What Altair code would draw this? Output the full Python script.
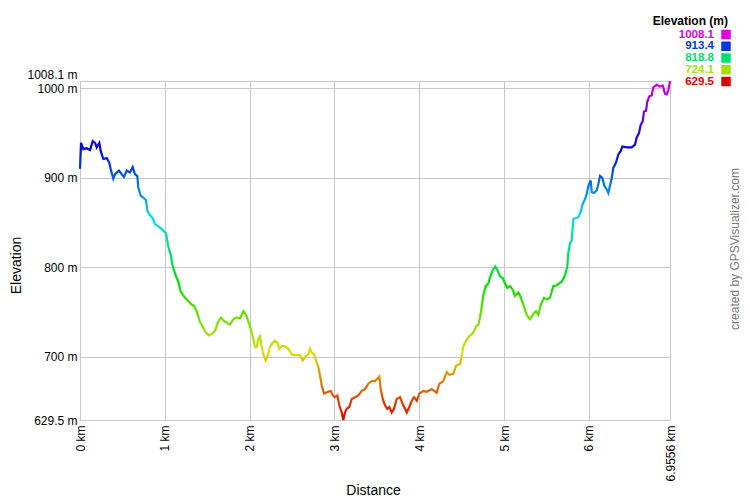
import colorsys
import altair as alt
import pandas as pd

dist_km = [
    0.000, 0.012, 0.039, 0.079, 0.118, 0.150, 0.177, 0.197, 0.228, 0.244,
    0.275, 0.315, 0.345, 0.366, 0.393, 0.413, 0.460, 0.492, 0.519, 0.551,
    0.589, 0.621, 0.648, 0.676, 0.687, 0.716, 0.746, 0.778, 0.794, 0.825,
    0.857, 0.884, 0.923, 0.982, 1.014, 1.041, 1.069, 1.093, 1.132, 1.159,
    1.187, 1.238, 1.262, 1.309, 1.344, 1.379, 1.415, 1.450, 1.486, 1.521,
    1.556, 1.592, 1.627, 1.662, 1.698, 1.733, 1.768, 1.807, 1.847, 1.886,
    1.925, 1.957, 1.984, 2.013, 2.043, 2.063, 2.083, 2.102, 2.122, 2.142,
    2.161, 2.189, 2.208, 2.240, 2.272, 2.299, 2.326, 2.350, 2.378, 2.417,
    2.456, 2.496, 2.535, 2.594, 2.626, 2.653, 2.692, 2.712, 2.732, 2.759,
    2.782, 2.810, 2.830, 2.850, 2.877, 2.927, 2.956, 2.979, 3.006, 3.034,
    3.057, 3.085, 3.104, 3.124, 3.144, 3.175, 3.203, 3.242, 3.281, 3.321,
    3.360, 3.399, 3.439, 3.478, 3.529, 3.545, 3.569, 3.596, 3.623, 3.647,
    3.675, 3.702, 3.734, 3.773, 3.805, 3.832, 3.852, 3.882, 3.911, 3.938,
    3.970, 4.000, 4.047, 4.087, 4.146, 4.205, 4.236, 4.283, 4.323, 4.354,
    4.401, 4.433, 4.480, 4.500, 4.519, 4.551, 4.590, 4.637, 4.669, 4.696,
    4.716, 4.736, 4.755, 4.783, 4.814, 4.834, 4.866, 4.896, 4.920, 4.952,
    4.983, 5.011, 5.038, 5.070, 5.101, 5.128, 5.168, 5.199, 5.235, 5.266,
    5.305, 5.344, 5.376, 5.403, 5.432, 5.470, 5.502, 5.541, 5.580, 5.620,
    5.679, 5.718, 5.745, 5.757, 5.777, 5.797, 5.816, 5.875, 5.903, 5.927,
    5.954, 5.974, 5.993, 6.021, 6.033, 6.060, 6.092, 6.111, 6.131, 6.158,
    6.181, 6.210, 6.229, 6.248, 6.268, 6.287, 6.319, 6.347, 6.375, 6.394,
    6.446, 6.504, 6.543, 6.563, 6.590, 6.610, 6.634, 6.649, 6.673, 6.688,
    6.712, 6.740, 6.759, 6.799, 6.830, 6.870, 6.897, 6.917, 6.936, 6.9556,
]
elev_m = [
    910, 939, 932, 933, 931, 941, 939, 934, 939, 930,
    921, 922, 917, 908, 899, 904, 908, 904, 901, 908,
    906, 912, 904, 902, 889, 880, 878, 875, 863, 858,
    855, 848, 846, 841, 838, 823, 814, 801, 790, 784,
    773, 766, 764, 759, 757, 750, 739, 733, 727, 724,
    726, 729, 739, 744, 740, 738, 736, 742, 744, 743,
    751, 747, 740, 731, 720, 711, 711, 720, 723, 711,
    703, 696, 700, 711, 716, 718, 716, 709, 712, 712,
    709, 703, 702, 702, 696, 700, 703, 709, 705, 703,
    696, 689, 679, 668, 659, 661, 662, 657, 655, 657,
    646, 638, 629.5, 638, 642, 644, 653, 655, 657, 662,
    664, 670, 673, 673, 678, 664, 653, 646, 642, 644,
    638, 642, 653, 655, 647, 642, 638, 644, 651, 655,
    651, 659, 662, 661, 664, 660, 670, 673, 683, 680,
    681, 690, 692, 701, 712, 718, 723, 727, 734, 736,
    744, 756, 769, 779, 782, 789, 797, 801, 797, 790,
    788, 782, 777, 779, 775, 768, 772, 766, 756, 747,
    742, 748, 751, 747, 758, 766, 764, 766, 779, 780,
    784, 791, 801, 816, 827, 830, 854, 856, 862, 871,
    876, 882, 891, 897, 884, 883, 886, 893, 902, 900,
    891, 887, 883, 891, 899, 911, 917, 926, 930, 935,
    934, 934, 937, 945, 950, 959, 963, 974, 975, 985,
    991, 992, 1001, 1004, 1002, 1003, 994, 993, 998, 1008.1,
]

x_ticks = [0, 1, 2, 3, 4, 5, 6, 6.9556]
y_ticks = [629.5, 700, 800, 900, 1000, 1008.1]
legend_title = ["Elevation (m)"]
legend_labels = ["1008.1", "913.4", "818.8", "724.1", "629.5"]
legend_colors = ["#e000e0", "#0038e0", "#00e070", "#a8e000", "#e00000"]
credit_text = ["created by GPSVisualizer.com"]


def hsv_hex(h):
    r, g, b = colorsys.hsv_to_rgb(h / 360.0, 1.0, 0.88)
    return "#%02x%02x%02x" % (int(r * 255), int(g * 255), int(b * 255))


stops = [alt.GradientStop(color=hsv_hex(300 * i / 10), offset=i / 10) for i in range(11)]

df = pd.DataFrame({"km": dist_km, "elev": elev_m})
leg = pd.DataFrame({"label": legend_labels, "color": legend_colors})

line = alt.Chart(df).mark_line(
    strokeWidth=2.2,
    stroke=alt.Gradient(gradient="linear", stops=stops, x1=0, x2=0, y1=1, y2=0),
).encode(
    x=alt.X("km:Q",
            scale=alt.Scale(domain=[0, 6.9556], nice=False, zero=False),
            axis=alt.Axis(values=x_ticks, labelExpr="datum.value + ' km'",
                          labelAngle=270, labelAlign="right", labelBaseline="middle",
                          labelPadding=5, labelFlush=False, labelOverlap=False,
                          ticks=False, domain=False, grid=True,
                          gridColor="#c8c8c8", gridWidth=1,
                          labelFontSize=12, labelColor="#000000",
                          title="Distance", titleFontSize=14, titleFontWeight="normal",
                          titleColor="#000000", titleX=293, titleY=70,
                          titleAlign="center", titleBaseline="middle")),
    y=alt.Y("elev:Q",
            scale=alt.Scale(domain=[629.5, 1008.1], nice=False, zero=False),
            axis=alt.Axis(values=y_ticks, labelExpr="datum.value + ' m'",
                          labelBaseline={"expr": "datum.value > 1005 ? 'bottom' : 'middle'"},
                          labelPadding=3, labelFlush=False, labelOverlap=False,
                          ticks=False, domain=False, grid=True,
                          gridColor="#c8c8c8", gridWidth=1,
                          labelFontSize=12, labelColor="#000000",
                          title="Elevation", titleFontSize=14, titleFontWeight="normal",
                          titleColor="#000000", titleAngle=270, titleX=-64, titleY=184,
                          titleAlign="center", titleBaseline="middle")),
)

legend_head = alt.Chart(pd.DataFrame({"t": legend_title})).mark_text(
    align="right", baseline="middle", fontSize=12, fontWeight="bold", color="#000000"
).encode(x=alt.value(648), y=alt.value(-60), text="t:N")

leg_y = alt.Y("label:N", sort=None,
              scale=alt.Scale(type="point", domain=legend_labels, range=[-46.5, 0.5], padding=0),
              axis=None)

legend_text = alt.Chart(leg).mark_text(
    align="right", baseline="middle", fontSize=11.5, fontWeight="bold"
).encode(x=alt.value(634), y=leg_y, text="label:N",
         color=alt.Color("color:N", scale=None))

legend_sq = alt.Chart(leg).mark_square(size=90, opacity=1).encode(
    x=alt.value(646), y=leg_y, color=alt.Color("color:N", scale=None))

credit = alt.Chart(pd.DataFrame({"t": credit_text})).mark_text(
    angle=270, align="center", baseline="middle", fontSize=12, color="#777777"
).encode(x=alt.value(655), y=alt.value(168), text="t:N")

chart = alt.layer(line, legend_head, legend_text, legend_sq, credit).resolve_scale(
    y="independent"
).properties(
    width=590, height=339,
    padding={"left": 72, "top": 73, "right": 72, "bottom": 80},
    autosize=alt.AutoSizeParams(type="none"),
).configure(font="Liberation Sans").configure_view(stroke=None)

chart.save("out.html", embed_options={"renderer": "svg", "actions": False})
